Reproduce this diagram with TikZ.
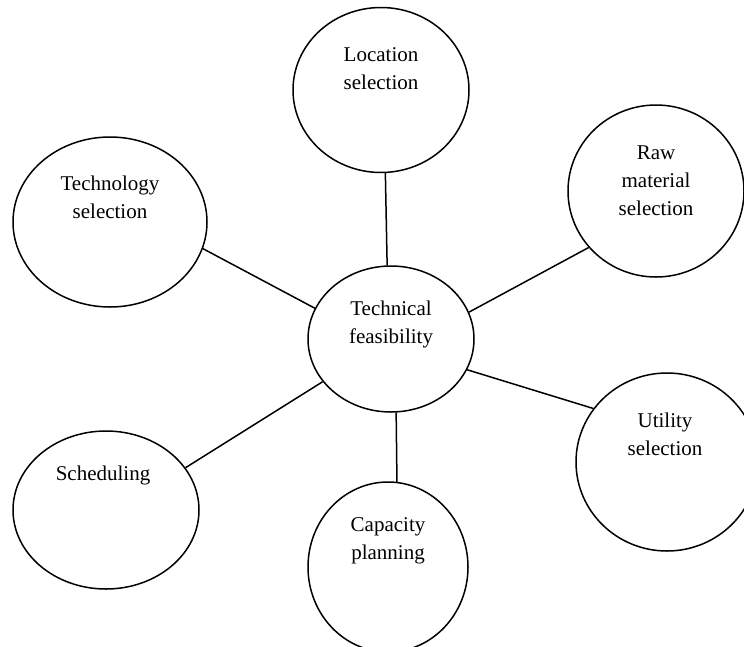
\documentclass[tikz,border=0pt]{standalone}
\usepackage{fontspec}
\setmainfont{Liberation Serif}
\usepackage{tikz}
\usetikzlibrary{shapes}

\begin{document}
\begin{tikzpicture}[x=1pt, y=-1pt, line width=1.5pt,
    bubble/.style={draw, ellipse, inner sep=0pt},
    every label/.style={align=center, font=\fontsize{21}{28}\selectfont}]
    \useasboundingbox (0,0) rectangle (744,646);
    \clip (0,0) rectangle (744,646);
    \node[bubble, minimum width=166, minimum height=146, label={[yshift=15]center:Technical\\feasibility}] (tech) at (391,339) {};
    \node[bubble, minimum width=176, minimum height=165, label={[yshift=21]center:Location\\selection}] (loc) at (381,90) {};
    \node[bubble, minimum width=176, minimum height=172, label={[yshift=10]center:Raw\\material\\selection}] (raw) at (656,191) {};
    \node[bubble, minimum width=194, minimum height=170, label={[yshift=25]center:Technology\\selection}] (techsel) at (110,222) {};
    \node[bubble, minimum width=182, minimum height=178, label={[yshift=28, xshift=-2]center:Utility\\selection}] (util) at (667,462) {};
    \node[bubble, minimum width=186, minimum height=158, label={[yshift=35, xshift=-3]center:Scheduling}] (sched) at (106,510) {};
    \node[bubble, minimum width=160, minimum height=170, label={[yshift=26]center:Capacity\\planning}] (cap) at (388,567) {};
    \draw (loc.-87) -- (tech.93);
    \draw (raw.220) -- (tech.19);
    \draw (techsel.-16) -- (tech.158);
    \draw (sched.28) -- (tech.212);
    \draw (util.144) -- (tech.-22);
    \draw (cap.84) -- (tech.-86); % raw
\end{tikzpicture}
\end{document}
